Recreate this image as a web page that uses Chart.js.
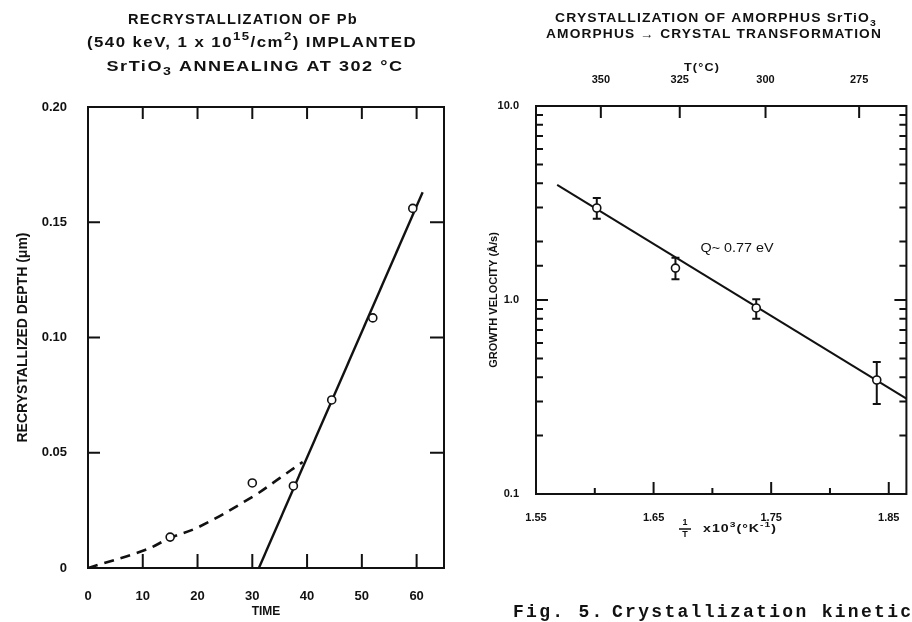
<!DOCTYPE html>
<html>
<head>
<meta charset="utf-8">
<title>Recrystallization / crystallization of SrTiO3</title>
<script src="https://cdn.jsdelivr.net/npm/chart.js@4.4.1/dist/chart.umd.min.js"></script>
<style>
  html, body { margin: 0; padding: 0; background: #fff; }
  #wrap { position: relative; width: 912px; height: 622px; overflow: hidden; }
  canvas { position: absolute; top: 0; }
  #left { left: 0; }
  #right { left: 460px; }
</style>
</head>
<body>
<div id="wrap">
  <canvas id="left" width="460" height="622"></canvas>
  <canvas id="right" width="452" height="622"></canvas>
</div>
<script>
// left panel: recrystallized depth vs time
const leftTime = [15, 30, 37.5, 44.5, 52, 59.3];
const leftDepth = [0.0134, 0.0369, 0.0356, 0.0729, 0.1085, 0.156];
const curveTime = [0, 10.4, 15, 20.4, 30.1, 35, 39.2];
const curveDepth = [0, 0.0078, 0.013, 0.018, 0.031, 0.039, 0.046];
const growthTime = [31.2, 61.1];
const growthDepth = [0, 0.163];
const timeTicks = [0, 10, 20, 30, 40, 50, 60];
const depthTicks = [0, 0.05, 0.10, 0.15, 0.20];

// right panel: growth velocity vs 1/T
const invT = [1.6017, 1.6686, 1.7373, 1.8398];
const velocity = [2.98, 1.46, 0.91, 0.387];
const velHigh = [3.36, 1.65, 1.01, 0.479];
const velLow = [2.62, 1.28, 0.80, 0.291];
const fitInvT = [1.568, 1.865];
const fitVel = [3.92, 0.31];
const invTTicks = [1.55, 1.60, 1.65, 1.70, 1.75, 1.80, 1.85];
const invTLabels = [1.55, 1.65, 1.75, 1.85];
const tempTicks = [350, 325, 300, 275];

const ink = '#111';
Chart.defaults.font.family = "'Liberation Sans', Arial, sans-serif";
Chart.defaults.color = ink;

const pts = (xs, ys) => xs.map((x, i) => ({ x, y: ys[i] }));

// text made of plain / superscript / subscript pieces, fitted to a width
function rich(ctx, segs, cx, cy, width, size, weight = 'bold', spacing = 1.2) {
  const fontOf = s => `${weight} ${s.s ? Math.round(size * 0.75) : size}px "Liberation Sans"`;
  ctx.save();
  ctx.letterSpacing = spacing + 'px';
  let total = 0;
  segs.forEach(s => { ctx.font = fontOf(s); s.w = ctx.measureText(s.t).width; total += s.w; });
  ctx.translate(cx - width / 2, cy);
  ctx.scale(width / total, 1);
  ctx.textAlign = 'left';
  ctx.textBaseline = 'middle';
  let x = 0;
  segs.forEach(s => {
    ctx.font = fontOf(s);
    const dy = s.s === 'sup' ? -size * 0.4 : s.s === 'sub' ? size * 0.35 : 0;
    ctx.fillText(s.t, x, dy);
    x += s.w;
  });
  ctx.restore();
}
const txt = t => ({ t });
const sup = t => ({ t, s: 'sup' });
const sub = t => ({ t, s: 'sub' });

const frame = {
  id: 'frame',
  afterDraw(chart) {
    const { ctx, chartArea: a } = chart;
    ctx.save();
    ctx.strokeStyle = ink;
    ctx.lineWidth = 2;
    ctx.strokeRect(a.left, a.top, a.right - a.left, a.bottom - a.top);
    ctx.restore();
  }
};

const leftDecor = {
  id: 'leftDecor',
  afterDraw(chart) {
    const { ctx, chartArea: a, scales: { x, y } } = chart;
    ctx.save();
    ctx.strokeStyle = ink;
    ctx.lineWidth = 2;
    ctx.beginPath();
    x.ticks.forEach(t => {
      const px = x.getPixelForValue(t.value);
      if (px < a.left + 2) return;
      ctx.moveTo(px, a.bottom); ctx.lineTo(px, a.bottom - 14);
      ctx.moveTo(px, a.top); ctx.lineTo(px, a.top + 12);
    });
    y.ticks.forEach(t => {
      const py = y.getPixelForValue(t.value);
      if (py > a.bottom - 2 || py < a.top + 2) return;
      ctx.moveTo(a.left, py); ctx.lineTo(a.left + 12, py);
      ctx.moveTo(a.right, py); ctx.lineTo(a.right - 14, py);
    });
    ctx.stroke();

    ctx.fillStyle = ink;
    rich(ctx, [txt('RECRYSTALLIZATION OF Pb')], 243, 20, 230, 14);
    rich(ctx, [txt('(540 keV, 1 x 10'), sup('15'), txt('/cm'), sup('2'), txt(') IMPLANTED')], 252, 43, 330, 14);
    rich(ctx, [txt('SrTiO'), sub('3'), txt(' ANNEALING AT 302 °C')], 255, 67, 297, 14);
    ctx.restore();
  }
};

const rightDecor = {
  id: 'rightDecor',
  beforeDatasetsDraw(chart) {
    // error bars through the library scales
    const { ctx, scales: { x, y } } = chart;
    ctx.save();
    ctx.strokeStyle = ink;
    ctx.lineWidth = 2;
    ctx.beginPath();
    invT.forEach((v, i) => {
      const px = x.getPixelForValue(v);
      const hi = y.getPixelForValue(velHigh[i]);
      const lo = y.getPixelForValue(velLow[i]);
      ctx.moveTo(px, hi); ctx.lineTo(px, lo);
      ctx.moveTo(px - 4, hi); ctx.lineTo(px + 4, hi);
      ctx.moveTo(px - 4, lo); ctx.lineTo(px + 4, lo);
    });
    ctx.stroke();
    ctx.restore();
  },
  afterDraw(chart) {
    const { ctx, chartArea: a, scales: { x, x2, y } } = chart;
    ctx.save();
    ctx.strokeStyle = ink;
    ctx.lineWidth = 2;
    ctx.beginPath();
    x.ticks.forEach(t => {
      const px = x.getPixelForValue(t.value);
      if (px < a.left + 2) return;
      const len = t.label ? 12 : 6;
      ctx.moveTo(px, a.bottom); ctx.lineTo(px, a.bottom - len);
    });
    x2.ticks.forEach(t => {
      const px = x2.getPixelForValue(t.value);
      ctx.moveTo(px, a.top); ctx.lineTo(px, a.top + 12);
    });
    y.ticks.forEach(t => {
      const py = y.getPixelForValue(t.value);
      if (py > a.bottom - 2 || py < a.top + 2) return;
      const len = t.label ? 12 : 7;
      ctx.moveTo(a.left, py); ctx.lineTo(a.left + len, py);
      ctx.moveTo(a.right, py); ctx.lineTo(a.right - len, py);
    });
    ctx.stroke();

    ctx.fillStyle = ink;
    rich(ctx, [txt('CRYSTALLIZATION OF AMORPHUS SrTiO'), sub('3')], 256, 19, 322, 12, 'bold', 1);
    rich(ctx, [txt('AMORPHUS → CRYSTAL TRANSFORMATION')], 254, 35, 336, 12, 'bold', 1);
    rich(ctx, [txt('T(°C)')], 242, 68, 36, 11, 'bold', 1);
    rich(ctx, [txt('Q~ 0.77 eV')], 277, 249, 73, 12, 'normal', 0);

    // x axis title: 1/T x10^3 (°K^-1)
    ctx.font = 'bold 9px "Liberation Sans"';
    ctx.textAlign = 'center';
    ctx.textBaseline = 'middle';
    ctx.fillText('1', 225, 523);
    ctx.fillText('T', 225, 535);
    ctx.lineWidth = 1.5;
    ctx.beginPath(); ctx.moveTo(219, 529); ctx.lineTo(231, 529); ctx.stroke();
    rich(ctx, [txt('x10'), sup('3'), txt('(°K'), sup('-1'), txt(')')], 280, 529, 74, 11, 'bold', 0.8);

    // figure caption (typewritten)
    ctx.font = 'bold 18px "Liberation Mono"';
    ctx.letterSpacing = '2.3px';
    ctx.textAlign = 'left';
    ctx.textBaseline = 'alphabetic';
    ctx.fillText('Fig. 5.', 53, 617);
    ctx.fillText('Crystallization kinetics', 152, 617);
    ctx.letterSpacing = '0px';
    ctx.restore();
  }
};

new Chart(document.getElementById('left'), {
  type: 'scatter',
  data: {
    datasets: [
      { label: 'measured', data: pts(leftTime, leftDepth), pointRadius: 4, pointBorderWidth: 1.6,
        pointBackgroundColor: '#fff', pointBorderColor: ink },
      { label: 'initial', data: pts(curveTime, curveDepth), showLine: true, borderColor: ink,
        borderWidth: 2.6, borderDash: [10, 7], tension: 0.4, pointRadius: 0 },
      { label: 'growth', data: pts(growthTime, growthDepth), showLine: true, borderColor: ink,
        borderWidth: 2.4, pointRadius: 0 }
    ]
  },
  options: {
    responsive: false,
    animation: false,
    layout: { padding: { top: 107, right: 16, left: 0, bottom: 0 } },
    plugins: { legend: { display: false }, tooltip: { enabled: false } },
    scales: {
      x: {
        type: 'linear', min: 0, max: 65,
        afterBuildTicks: s => { s.ticks = timeTicks.map(v => ({ value: v })); },
        afterFit: s => { s.height = 54; },
        grid: { display: false }, border: { display: false },
        ticks: { padding: 13, maxRotation: 0, autoSkip: false, color: ink,
          font: { size: 13, weight: 'bold' }, callback: v => String(v) },
        title: { display: true, text: 'TIME', color: ink, padding: { top: 0, bottom: 3 },
          font: { size: 12, weight: 'bold' } }
      },
      y: {
        type: 'linear', min: 0, max: 0.2,
        afterBuildTicks: s => { s.ticks = depthTicks.map(v => ({ value: v })); },
        afterFit: s => { s.width = 88; },
        grid: { display: false }, border: { display: false },
        ticks: { padding: 13, autoSkip: false, color: ink, font: { size: 13, weight: 'bold' },
          callback: v => (v === 0 ? '0' : v.toFixed(2)) },
        title: { display: true, text: 'RECRYSTALLIZED DEPTH (μm)', color: ink,
          padding: { top: 15, bottom: 0 }, font: { size: 14, weight: 'bold' } }
      }
    }
  },
  plugins: [frame, leftDecor]
});

new Chart(document.getElementById('right'), {
  type: 'scatter',
  data: {
    datasets: [
      { label: 'velocity', data: pts(invT, velocity), pointRadius: 4, pointBorderWidth: 1.6,
        pointBackgroundColor: '#fff', pointBorderColor: ink },
      { label: 'fit', data: pts(fitInvT, fitVel), showLine: true, borderColor: ink,
        borderWidth: 2, pointRadius: 0 }
    ]
  },
  options: {
    responsive: false,
    animation: false,
    layout: { padding: { top: 0, right: 4, left: 0, bottom: 0 } },
    plugins: { legend: { display: false }, tooltip: { enabled: false } },
    scales: {
      x: {
        type: 'linear', position: 'bottom', min: 1.55, max: 1.865,
        afterBuildTicks: s => { s.ticks = invTTicks.map(v => ({ value: v })); },
        afterFit: s => { s.height = 128; },
        grid: { display: false }, border: { display: false },
        ticks: { padding: 9, maxRotation: 0, autoSkip: false, color: ink,
          font: { size: 11, weight: 'bold' },
          callback: v => (invTLabels.some(l => Math.abs(l - v) < 1e-6) ? v.toFixed(2) : '') }
      },
      x2: {
        type: 'linear', position: 'top', min: 1.55, max: 1.865,
        afterBuildTicks: s => { s.ticks = tempTicks.map(t => ({ value: 1000 / (t + 273) })); },
        afterFit: s => { s.height = 106; },
        grid: { display: false }, border: { display: false },
        ticks: { padding: 11, maxRotation: 0, autoSkip: false, color: ink,
          font: { size: 11, weight: 'bold' },
          callback: v => String(Math.round(1000 / v - 273)) }
      },
      y: {
        type: 'logarithmic', min: 0.1, max: 10,
        afterFit: s => { s.width = 76; },
        grid: { display: false }, border: { display: false },
        ticks: { padding: 9, autoSkip: false, color: ink, font: { size: 11, weight: 'bold' },
          callback: v => {
            const l = Math.log10(v);
            if (Math.abs(l - Math.round(l)) > 1e-6) return '';
            return v < 1 ? '0.1' : v.toFixed(1);
          } },
        title: { display: true, text: 'GROWTH VELOCITY (Å/s)', color: ink,
          padding: { top: 27, bottom: 0 }, font: { size: 11, weight: 'bold' } }
      }
    }
  },
  plugins: [frame, rightDecor]
});
</script>
</body>
</html>
